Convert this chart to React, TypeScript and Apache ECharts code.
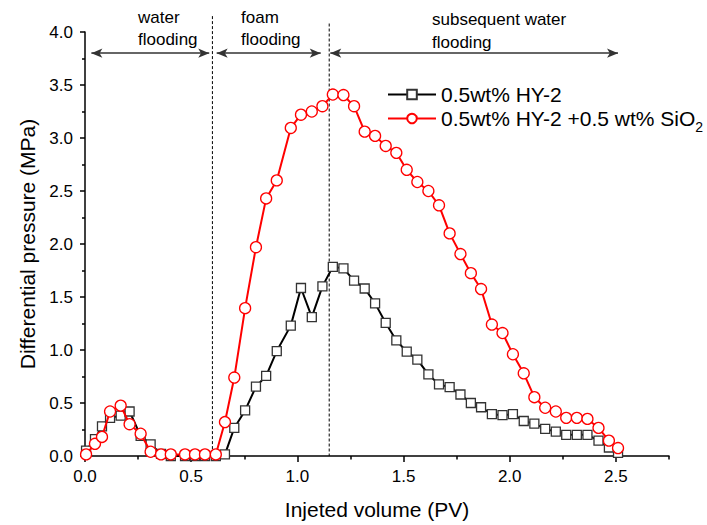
import React, { useEffect, useRef } from "react";
import * as echarts from "echarts";

// ---- data ----
const injectedPV = [
  0.005, 0.047, 0.08, 0.118, 0.168, 0.21, 0.262, 0.309, 0.358, 0.404, 0.471, 0.518, 0.565, 0.616,
  0.659, 0.703, 0.754, 0.805, 0.853, 0.903, 0.969, 1.017, 1.068, 1.118, 1.167, 1.217, 1.267, 1.317,
  1.366, 1.416, 1.466, 1.515, 1.565, 1.617, 1.667, 1.717, 1.768, 1.817, 1.865, 1.916, 1.966, 2.015,
  2.066, 2.116, 2.167, 2.217, 2.266, 2.316, 2.366, 2.418, 2.467, 2.51,
];
const hy2Pressure = [
  0.05, 0.16, 0.28, 0.36, 0.38, 0.42, 0.19, 0.11, 0.02, 0, 0, 0, 0, 0,
  0.015, 0.265, 0.43, 0.655, 0.755, 0.99, 1.23, 1.585, 1.31, 1.6, 1.785, 1.77, 1.655, 1.58,
  1.44, 1.255, 1.09, 0.985, 0.91, 0.77, 0.675, 0.65, 0.58, 0.5, 0.46, 0.395, 0.385, 0.395,
  0.33, 0.305, 0.255, 0.23, 0.2, 0.2, 0.2, 0.145, 0.08, 0.03,
];
const siPressure = [
  0.015, 0.115, 0.18, 0.42, 0.475, 0.3, 0.21, 0.04, 0.015, 0.015, 0.015, 0.015, 0.015, 0.015,
  0.32, 0.74, 1.395, 1.97, 2.43, 2.6, 3.095, 3.22, 3.25, 3.3, 3.41, 3.405, 3.3, 3.06,
  3.02, 2.925, 2.86, 2.7, 2.585, 2.5, 2.365, 2.1, 1.905, 1.725, 1.575, 1.24, 1.16, 0.96,
  0.78, 0.555, 0.455, 0.42, 0.36, 0.36, 0.35, 0.265, 0.145, 0.075,
];
const xMajorTicks = [0, 0.5, 1.0, 1.5, 2.0, 2.5];
const xMinorTicks = [0.25, 0.75, 1.25, 1.75, 2.25, 2.75];
const stageBoundaries = [0.6, 1.15];
const stageBoundaryTops = [4.15, 4.08];
const stageArrows = [
  [0.03, 0.585],
  [0.62, 1.11],
  [1.155, 2.51],
];
const arrowLevel = 3.8;
const seriesNames = ["0.5wt% HY-2", "0.5wt% HY-2 +0.5 wt% SiO2"];

const FONT = "'Liberation Sans', Arial, Helvetica, sans-serif";

export default function App() {
  const ref = useRef<HTMLDivElement>(null);
  useEffect(() => {
    if (!ref.current) return;
    const chart = echarts.init(ref.current, null, { renderer: "svg" });
    const axisLineStyle = { color: "#000", width: 1.5 };
    chart.setOption({
      animation: false,
      backgroundColor: "#fff",
      textStyle: { fontFamily: FONT },
      grid: { left: 85, right: 38, top: 32, bottom: 66.5 },
      legend: {
        orient: "vertical",
        left: 387,
        top: 84,
        padding: 0,
        itemWidth: 48,
        itemHeight: 12,
        itemGap: 3,
        data: seriesNames,
        textStyle: {
          fontSize: 21,
          color: "#000",
          fontFamily: FONT,
          rich: {
            sub: { fontSize: 14, fontFamily: FONT, color: "#000", padding: [16, 0, 0, 0] },
          },
        },
        formatter: (name: string) =>
          name === seriesNames[1] ? "0.5wt% HY-2 +0.5 wt% SiO{sub|2}" : name,
      },
      xAxis: [
        {
          type: "value",
          min: 0,
          max: 2.75,
          interval: 0.5,
          name: "Injeted volume (PV)",
          nameLocation: "middle",
          nameGap: 43,
          nameTextStyle: { fontSize: 21, color: "#000", fontFamily: FONT },
          axisLine: { show: true, onZero: false, lineStyle: axisLineStyle },
          axisTick: { show: true, length: 6, customValues: xMajorTicks, lineStyle: axisLineStyle },
          axisLabel: {
            fontSize: 17,
            color: "#000",
            margin: 12,
            customValues: xMajorTicks,
            formatter: (v: number) =>
              Math.abs(v * 2 - Math.round(v * 2)) < 1e-6 ? v.toFixed(1) : "",
          },
          splitLine: { show: false },
        },
        {
          type: "value",
          min: 0,
          max: 2.75,
          position: "bottom",
          axisLine: { show: false },
          axisTick: { show: true, length: 3.5, customValues: xMinorTicks, lineStyle: axisLineStyle },
          axisLabel: { show: false },
          splitLine: { show: false },
        },
      ],
      yAxis: {
        type: "value",
        min: 0,
        max: 4,
        interval: 0.5,
        name: "Differential pressure (MPa)",
        nameLocation: "middle",
        nameGap: 47,
        nameTextStyle: { fontSize: 21, color: "#000", fontFamily: FONT },
        axisLine: { show: true, lineStyle: axisLineStyle },
        axisTick: { show: true, length: 5, lineStyle: axisLineStyle },
        minorTick: { show: true, splitNumber: 2, length: 3, lineStyle: axisLineStyle },
        axisLabel: {
          fontSize: 17,
          color: "#000",
          margin: 12,
          formatter: (v: number) => v.toFixed(1),
        },
        splitLine: { show: false },
      },
      series: [
        {
          name: seriesNames[0],
          type: "line",
          data: injectedPV.map((x, i) => [x, hy2Pressure[i]]),
          symbol: "rect",
          symbolSize: 9,
          showAllSymbol: true,
          lineStyle: { color: "#000", width: 2 },
          itemStyle: { color: "#fff", borderColor: "#333", borderWidth: 1.3 },
          markLine: {
            silent: true,
            symbol: ["arrow", "arrow"],
            symbolSize: [7, 11],
            label: { show: false },
            lineStyle: { color: "#333", width: 1.5, type: "solid" },
            data: stageArrows.map(([a, b]) => [
              { coord: [a, arrowLevel] },
              { coord: [b, arrowLevel] },
            ]),
          },
          z: 2,
        },
        {
          name: seriesNames[1],
          type: "line",
          data: injectedPV.map((x, i) => [x, siPressure[i]]),
          symbol: "circle",
          symbolSize: 11,
          showAllSymbol: true,
          lineStyle: { color: "#ff0000", width: 2 },
          itemStyle: { color: "#fff", borderColor: "#ff0000", borderWidth: 1.3 },
          z: 3,
        },
      ],
    });

    // stage boundaries (dashed) and stage labels, positioned through the axes
    const px = (x: number, y: number) =>
      chart.convertToPixel({ xAxisIndex: 0, yAxisIndex: 0 }, [x, y]) as number[];
    const lines = stageBoundaries.map((x, i) => {
      const top = px(x, stageBoundaryTops[i]);
      const bot = px(x, 0);
      return {
        type: "line",
        shape: { x1: top[0], y1: top[1], x2: bot[0], y2: bot[1] },
        style: { stroke: "#000", lineWidth: 1, lineDash: [3, 2] },
        z: 1,
      };
    });
    const labelStyle = { font: `17px ${FONT}`, fill: "#000", verticalAlign: "top" as const };
    const texts = [
      { t: "water", x: 138, y: 9 },
      { t: "flooding", x: 138, y: 31 },
      { t: "foam", x: 241, y: 9 },
      { t: "flooding", x: 241, y: 31 },
      { t: "subsequent water", x: 432, y: 11 },
      { t: "flooding", x: 432, y: 34 },
    ].map((o) => ({ type: "text", x: o.x, y: o.y, style: { ...labelStyle, text: o.t } }));
    chart.setOption({ graphic: [...lines, ...texts] });

    return () => chart.dispose();
  }, []);
  return (
    <div
      ref={ref}
      style={{ position: "fixed", left: 0, top: 0, width: 707, height: 525, background: "#fff" }}
    />
  );
}
